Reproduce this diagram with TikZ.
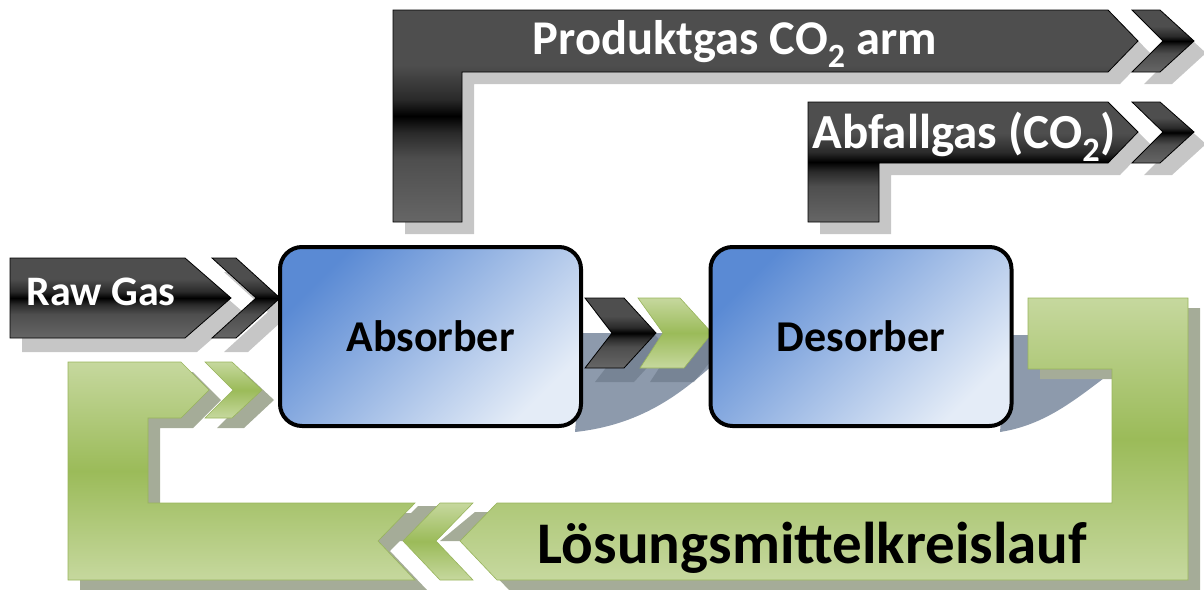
\documentclass[tikz,border=0pt]{standalone}
\usepackage{fontspec}
\setmainfont{Carlito}
\definecolor{gA}{HTML}{4E4E4E}
\definecolor{gB}{HTML}{666666}
\definecolor{gC}{HTML}{2A2A2A}
\definecolor{grL}{HTML}{C6D89E}
\definecolor{grD}{HTML}{9BBB59}
\definecolor{grE}{HTML}{98B45C}
\definecolor{bD}{HTML}{5A8AD4}
\definecolor{bL}{HTML}{E4ECF7}
\definecolor{shG}{HTML}{C6C6C6}
\definecolor{shGr}{HTML}{A5AC98}
\definecolor{shB}{HTML}{8D9AAC}
\definecolor{shM}{HTML}{5E6B7A}
\pgfdeclareverticalshading{blkshade}{100bp}{color(0bp)=(gB); color(25bp)=(gB); color(40bp)=(gA); color(46bp)=(gC); color(50bp)=(black); color(54bp)=(gC); color(62bp)=(gA); color(75bp)=(gA); color(100bp)=(gA)}
\tikzset{
  blk/.style={draw=black, line width=0.8pt, shading=blkshade},
  grn/.style={draw=grE, line width=0.6pt, top color=grL, bottom color=grL, middle color=grD},
  shd/.style={fill=shG, draw=none},
  gshd/.style={fill=shGr, draw=none},
  mshd/.style={fill=shM, draw=none, opacity=0.45},
  bshd/.style={fill=shB, draw=none},
  procbox/.style={draw=black, line width=4pt, rounded corners=22pt, top color=bD, bottom color=bL, shading angle=45,
    minimum width=301pt, minimum height=179pt, inner sep=0pt},
  wlbl/.style={text=white, font=\bfseries, inner sep=0pt, anchor=base},
  klbl/.style={text=black, font=\bfseries, inner sep=0pt, anchor=base},
}
\begin{document}
\begin{tikzpicture}[x=1pt, y=-1pt]
\useasboundingbox (0,0) rectangle (1204,589);
% box shadows
\fill[bshd] (583,333) -- (716,333) -- (716,362) .. controls (680,395) and (640,425) .. (575,432) -- cycle;
\fill[bshd] (1008,335) -- (1112,335) -- (1112,372) .. controls (1075,400) and (1045,425) .. (1000,432) -- cycle;
% gray shadows of black arrows
\begin{scope}[shift={(12,12)}]
\fill[shd] (393,10) -- (1108,10) -- (1138,41) -- (1108,72) -- (462,72) -- (462,222) -- (393,222) -- cycle;
\fill[shd] (1132,10) -- (1160,10) -- (1194,41) -- (1160,72) -- (1132,72) -- (1163,41) -- cycle;
\fill[shd] (808,102) -- (1108,102) -- (1138,132) -- (1108,163) -- (879,163) -- (879,222) -- (808,222) -- cycle;
\fill[shd] (1132,102) -- (1160,102) -- (1194,132) -- (1160,163) -- (1132,163) -- (1163,132) -- cycle;
\end{scope}
\begin{scope}[shift={(12,14)}]
\fill[shd] (10,258) -- (185,258) -- (231,298) -- (185,338) -- (10,338) -- cycle;
\fill[shd] (212,258) -- (236,258) -- (280,298) -- (236,338) -- (212,338) -- (256,298) -- cycle;
\end{scope}
% green shadows
\begin{scope}[shift={(12,10)}]
\fill[gshd] (1028,298) -- (1188,298) -- (1188,580) -- (497,580) -- (460,541) -- (497,503) -- (1112,503) -- (1112,369) -- (1028,369) -- cycle;
\fill[gshd] (68,362) -- (181,362) -- (209,390) -- (181,418) -- (148,418) -- (148,503) -- (415,503) -- (378,541) -- (415,580) -- (68,580) -- cycle;
\fill[gshd] (205,362) -- (232,362) -- (262,390) -- (232,418) -- (205,418) -- (233,390) -- cycle;
\end{scope}
\fill[gshd] (418,506) -- (440,506) -- (405,541) -- (383,541) -- cycle;
\fill[gshd] (475,512) -- (495,512) -- (462,541) -- (440,541) -- cycle;
% middle chevron shadows
\begin{scope}[shift={(10,14)}]
\fill[mshd] (585,298) -- (624,298) -- (656,333) -- (624,368) -- (585,368) -- (612,333) -- cycle;
\fill[mshd] (638,298) -- (680,298) -- (712,333) -- (684,368) -- (640,368) -- (663,333) -- cycle;
\end{scope}
% black arrows
\draw[blk] (393,10) -- (1108,10) -- (1138,41) -- (1108,72) -- (462,72) -- (462,222) -- (393,222) -- cycle;
\draw[blk] (1132,10) -- (1160,10) -- (1194,41) -- (1160,72) -- (1132,72) -- (1163,41) -- cycle;
\draw[blk] (808,102) -- (1108,102) -- (1138,132) -- (1108,163) -- (879,163) -- (879,222) -- (808,222) -- cycle;
\draw[blk] (1132,102) -- (1160,102) -- (1194,132) -- (1160,163) -- (1132,163) -- (1163,132) -- cycle;
\draw[blk] (10,258) -- (185,258) -- (231,298) -- (185,338) -- (10,338) -- cycle;
\draw[blk] (212,258) -- (236,258) -- (280,298) -- (236,338) -- (212,338) -- (256,298) -- cycle;
\draw[blk] (585,298) -- (624,298) -- (656,333) -- (624,368) -- (585,368) -- (612,333) -- cycle;
% green arrows
\draw[grn] (638,298) -- (680,298) -- (712,333) -- (684,368) -- (640,368) -- (663,333) -- cycle;
\draw[grn] (1028,298) -- (1188,298) -- (1188,580) -- (497,580) -- (460,541) -- (497,503) -- (1112,503) -- (1112,369) -- (1028,369) -- cycle;
\draw[grn] (68,362) -- (181,362) -- (209,390) -- (181,418) -- (148,418) -- (148,503) -- (415,503) -- (378,541) -- (415,580) -- (68,580) -- cycle;
\draw[grn] (205,362) -- (232,362) -- (262,390) -- (232,418) -- (205,418) -- (233,390) -- cycle;
\draw[grn] (440,503) -- (473,503) -- (436,541) -- (473,580) -- (440,580) -- (403,541) -- cycle;
% process boxes
\node[procbox, font=\bfseries\fontsize{44}{44}\selectfont] (abs) at (430.5,336.5) {Absorber};
\node[procbox, font=\bfseries\fontsize{44}{44}\selectfont] (des) at (861,336.5) {Desorber};
% labels
\node[wlbl, font=\bfseries\fontsize{42}{42}\selectfont] (raw) at (101,305) {Raw Gas};
\node[wlbl, font=\bfseries\fontsize{48.5}{48.5}\selectfont] (prod) at (735,54) {Produktgas CO\textsubscript{2} arm};
\node[wlbl, font=\bfseries\fontsize{49}{49}\selectfont] (abf) at (964,148) {Abfallgas (CO\textsubscript{2})};
\node[klbl, font=\bfseries\fontsize{59}{59}\selectfont] (loes) at (812,563) {Lösungsmittelkreislauf};
\end{tikzpicture}
\end{document}
